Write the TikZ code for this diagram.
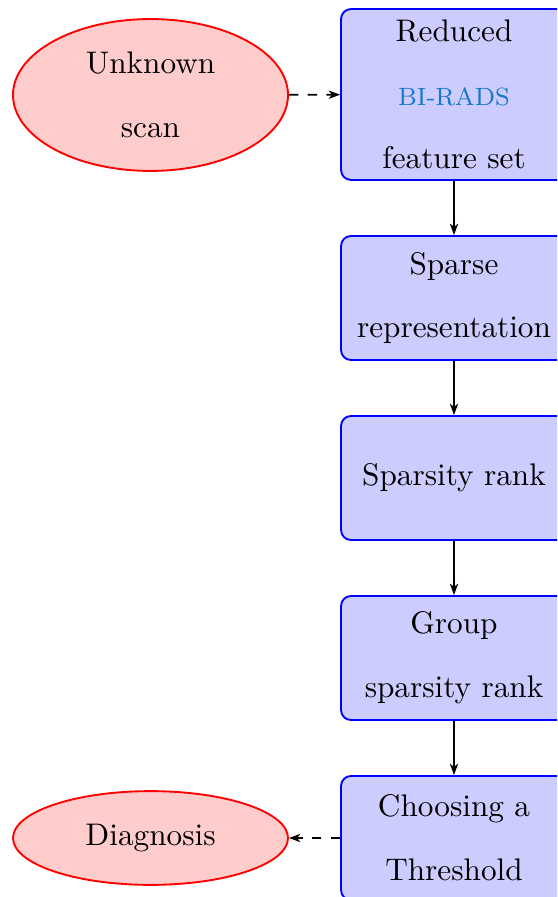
\documentclass[tikz,border=0pt]{standalone}
\usetikzlibrary{shapes.geometric,arrows.meta}
\definecolor{radsblue}{RGB}{22,120,200}
\begin{document}
\begin{tikzpicture}[x=0.32pt,y=-0.32pt,
  block/.style={rectangle, draw=blue, fill=blue!20, line width=0.6pt,
    rounded corners=3.2pt, minimum width=72.3pt, minimum height=39.7pt,
    text width=68pt, align=center, inner sep=0pt,
    font=\fontsize{10}{20.4}\selectfont},
  cloud/.style={ellipse, draw=red, fill=red!20, line width=0.6pt,
    minimum width=88pt, inner sep=0pt, align=center,
    font=\fontsize{10}{20.4}\selectfont},
  link/.style={draw, line width=0.6pt,
    -{Stealth[length=3.6pt,width=2.6pt,inset=1pt]}},
  dlink/.style={link, dashed}]
\useasboundingbox (0,0) rectangle (557,897);
\clip (0,0) rectangle (557,897);

% processing chain
\node[block, minimum height=54.7pt] (feat) at (454,94.5)
  {Reduced\\{\footnotesize\color{radsblue}BI-RADS}\\feature set};
\node[block] (sparse) at (454,298) {Sparse\\representation};
\node[block] (rank) at (454,478) {Sparsity rank};
\node[block] (group) at (454,658) {Group\\sparsity rank};
\node[block] (thresh) at (454,838) {Choosing a\\Threshold};

% input and output
\node[cloud, minimum height=48.6pt] (scan) at (150.5,95) {Unknown\\scan};
\node[cloud, minimum height=30pt] (diag) at (150.5,838) {Diagnosis};

% connectors
\draw[dlink] (scan) -- (feat);
\draw[link] (feat) -- (sparse);
\draw[link] (sparse) -- (rank);
\draw[link] (rank) -- (group);
\draw[link] (group) -- (thresh);
\draw[dlink] (thresh) -- (diag);
\end{tikzpicture}
\end{document}
